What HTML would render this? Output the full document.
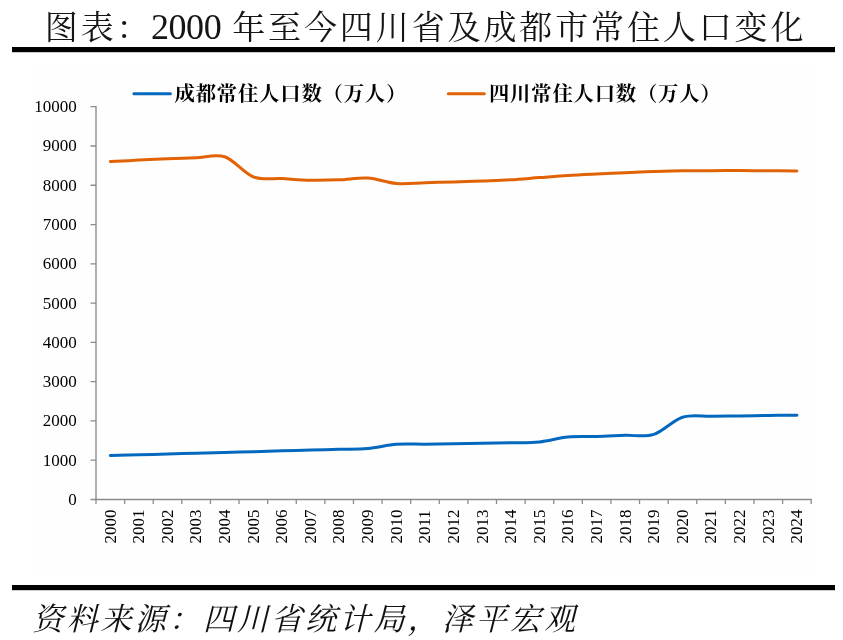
<!DOCTYPE html>
<html><head><meta charset="utf-8"><title>chart</title>
<style>
html,body{margin:0;padding:0;background:#fff;}
body{width:843px;height:640px;overflow:hidden;font-family:"Liberation Serif",serif;}
svg{display:block;will-change:transform;}
</style></head><body>
<svg width="843" height="640" viewBox="0 0 843 640">
<rect width="843" height="640" fill="#fff"/>
<rect x="31.4" y="65" width="784.4" height="505.7" fill="#fefefe"/>
<g fill="#151515" font-family="'Liberation Serif','Noto Serif CJK SC',serif">
<text x="44.84" y="39.1" font-size="33" letter-spacing="2.88">图表：</text>
<text x="150.9" y="39.2" font-size="36" letter-spacing="-0.4">2000</text>
<text x="232.24" y="39.1" font-size="33" letter-spacing="2.88">年至今四川省及成都市常住人口变化</text>
</g>
<rect x="12" y="47" width="823" height="5.2" fill="#000"/>
<rect x="12" y="585" width="823" height="5.2" fill="#000"/>
<path d="M96.0 106.10000000000001V499.5" stroke="#8c8c8c" stroke-width="1.4" fill="none"/>
<path d="M90.5 499.5H811.8000000000001" stroke="#8c8c8c" stroke-width="1.3" fill="none"/>
<path d="M90.5 460.22H96.0M90.5 420.94H96.0M90.5 381.66H96.0M90.5 342.38H96.0M90.5 303.10H96.0M90.5 263.82H96.0M90.5 224.54H96.0M90.5 185.26H96.0M90.5 145.98H96.0M90.5 106.70H96.0M96.00 499.5V504.1M124.61 499.5V504.1M153.22 499.5V504.1M181.82 499.5V504.1M210.43 499.5V504.1M239.04 499.5V504.1M267.65 499.5V504.1M296.26 499.5V504.1M324.86 499.5V504.1M353.47 499.5V504.1M382.08 499.5V504.1M410.69 499.5V504.1M439.30 499.5V504.1M467.90 499.5V504.1M496.51 499.5V504.1M525.12 499.5V504.1M553.73 499.5V504.1M582.34 499.5V504.1M610.94 499.5V504.1M639.55 499.5V504.1M668.16 499.5V504.1M696.77 499.5V504.1M725.38 499.5V504.1M753.98 499.5V504.1M782.59 499.5V504.1M811.20 499.5V504.1" stroke="#8c8c8c" stroke-width="1.3" fill="none"/>
<g font-family="Liberation Serif" font-size="17" fill="#000" text-anchor="end">
<text x="76.8" y="505.00">0</text>
<text x="76.8" y="465.72">1000</text>
<text x="76.8" y="426.44">2000</text>
<text x="76.8" y="387.16">3000</text>
<text x="76.8" y="347.88">4000</text>
<text x="76.8" y="308.60">5000</text>
<text x="76.8" y="269.32">6000</text>
<text x="76.8" y="230.04">7000</text>
<text x="76.8" y="190.76">8000</text>
<text x="76.8" y="151.48">9000</text>
<text x="76.8" y="112.20">10000</text>
</g>
<g font-family="Liberation Serif" font-size="17" fill="#000">
<text transform="translate(115.60 543.6) rotate(-90)">2000</text>
<text transform="translate(144.21 543.6) rotate(-90)">2001</text>
<text transform="translate(172.82 543.6) rotate(-90)">2002</text>
<text transform="translate(201.43 543.6) rotate(-90)">2003</text>
<text transform="translate(230.04 543.6) rotate(-90)">2004</text>
<text transform="translate(258.64 543.6) rotate(-90)">2005</text>
<text transform="translate(287.25 543.6) rotate(-90)">2006</text>
<text transform="translate(315.86 543.6) rotate(-90)">2007</text>
<text transform="translate(344.47 543.6) rotate(-90)">2008</text>
<text transform="translate(373.08 543.6) rotate(-90)">2009</text>
<text transform="translate(401.68 543.6) rotate(-90)">2010</text>
<text transform="translate(430.29 543.6) rotate(-90)">2011</text>
<text transform="translate(458.90 543.6) rotate(-90)">2012</text>
<text transform="translate(487.51 543.6) rotate(-90)">2013</text>
<text transform="translate(516.12 543.6) rotate(-90)">2014</text>
<text transform="translate(544.72 543.6) rotate(-90)">2015</text>
<text transform="translate(573.33 543.6) rotate(-90)">2016</text>
<text transform="translate(601.94 543.6) rotate(-90)">2017</text>
<text transform="translate(630.55 543.6) rotate(-90)">2018</text>
<text transform="translate(659.16 543.6) rotate(-90)">2019</text>
<text transform="translate(687.76 543.6) rotate(-90)">2020</text>
<text transform="translate(716.37 543.6) rotate(-90)">2021</text>
<text transform="translate(744.98 543.6) rotate(-90)">2022</text>
<text transform="translate(773.59 543.6) rotate(-90)">2023</text>
<text transform="translate(802.20 543.6) rotate(-90)">2024</text>
</g>
<path d="M110.30 161.61C115.07 161.36 129.38 160.59 138.91 160.12C148.45 159.66 157.98 159.22 167.52 158.82C177.06 158.43 186.59 158.10 196.13 157.76C205.66 157.42 215.20 153.59 224.74 156.78C234.27 159.98 243.81 173.29 253.34 176.93C262.88 180.57 272.42 178.07 281.95 178.62C291.49 179.18 301.02 180.07 310.56 180.27C320.10 180.47 329.63 180.22 339.17 179.84C348.70 179.46 358.24 177.38 367.78 177.99C377.31 178.60 386.85 182.70 396.38 183.49C405.92 184.28 415.46 183.01 424.99 182.75C434.53 182.48 444.06 182.22 453.60 181.92C463.14 181.63 472.67 181.33 482.21 180.98C491.74 180.62 501.28 180.37 510.82 179.80C520.35 179.23 529.89 178.29 539.42 177.56C548.96 176.83 558.50 176.01 568.03 175.40C577.57 174.79 587.10 174.37 596.64 173.91C606.18 173.45 615.71 173.06 625.25 172.65C634.78 172.25 644.32 171.80 653.86 171.47C663.39 171.15 672.93 170.82 682.46 170.69C692.00 170.55 701.54 170.67 711.07 170.65C720.61 170.63 730.14 170.54 739.68 170.57C749.22 170.60 758.75 170.74 768.29 170.80C777.82 170.87 792.13 170.94 796.90 170.96" stroke="#e26306" stroke-width="3" fill="none" stroke-linecap="round" stroke-linejoin="round"/>
<path d="M110.30 455.58C115.07 455.45 129.38 455.06 138.91 454.80C148.45 454.54 157.98 454.28 167.52 454.01C177.06 453.75 186.59 453.49 196.13 453.23C205.66 452.97 215.20 452.70 224.74 452.44C234.27 452.18 243.81 451.92 253.34 451.66C262.88 451.40 272.42 451.13 281.95 450.87C291.49 450.61 301.02 450.34 310.56 450.09C320.10 449.83 329.63 449.59 339.17 449.34C348.70 449.08 358.24 449.39 367.78 448.55C377.31 447.72 386.85 445.03 396.38 444.31C405.92 443.59 415.46 444.32 424.99 444.23C434.53 444.15 444.06 443.95 453.60 443.80C463.14 443.65 472.67 443.49 482.21 443.33C491.74 443.17 501.28 443.05 510.82 442.82C520.35 442.58 529.89 442.89 539.42 441.92C548.96 440.94 558.50 437.88 568.03 436.97C577.57 436.06 587.10 436.72 596.64 436.46C606.18 436.19 615.71 435.70 625.25 435.36C634.78 435.01 644.32 437.39 653.86 434.37C663.39 431.36 672.93 420.27 682.46 417.25C692.00 414.23 701.54 416.48 711.07 416.27C720.61 416.05 730.14 416.09 739.68 415.95C749.22 415.81 758.75 415.57 768.29 415.44C777.82 415.31 792.13 415.21 796.90 415.17" stroke="#0568bf" stroke-width="3" fill="none" stroke-linecap="round" stroke-linejoin="round"/>
<path d="M133.9 93.8H170.4" stroke="#0568bf" stroke-width="3" stroke-linecap="round"/>
<path d="M448.3 93.8H484.3" stroke="#e26306" stroke-width="3" stroke-linecap="round"/>
<g fill="#000" font-family="'Liberation Serif','Noto Serif CJK SC',serif" font-size="20.4" font-weight="bold" letter-spacing="0.75">
<text x="174.57" y="101.2">成都常住人口数（万人）</text>
<text x="488.98" y="101.2">四川常住人口数（万人）</text>
</g>
<g fill="#111" font-family="'Liberation Serif','Noto Serif CJK SC',serif" font-size="31.2" font-style="italic" letter-spacing="2.92">
<text x="32.36" y="629.7">资料来源：四川省统计局，泽平宏观</text>
</g>
</svg>
</body></html>
